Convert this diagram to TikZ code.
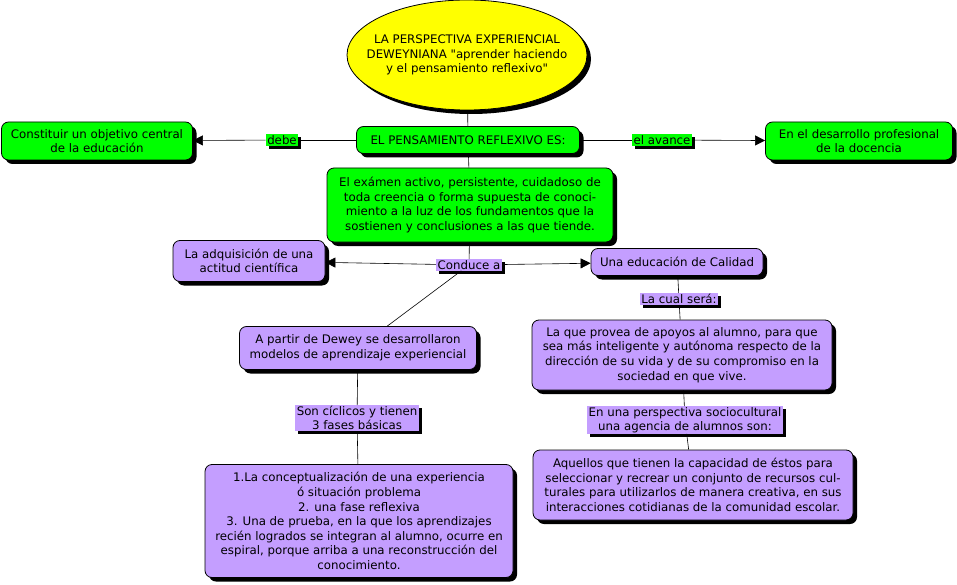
\documentclass[tikz,border=0pt]{standalone}
\usepackage{fontspec}
\setmainfont{DejaVu Sans}[Ligatures=TeXOff]
\usetikzlibrary{shapes.geometric,shadows,arrows.meta}
\definecolor{verde}{RGB}{0,255,0}
\definecolor{lila}{RGB}{196,158,255}
\definecolor{amarillo}{RGB}{255,255,0}
\begin{document}
\begin{tikzpicture}[x=1pt,y=-1pt,
    concepto/.style={draw, line width=0.8pt, rounded corners=7pt, align=center,
        inner sep=1pt, font=\fontsize{11.8}{14.6}\selectfont,
        drop shadow={fill=black, opacity=1, shadow xshift=4pt, shadow yshift=-4pt}},
    etiqueta/.style={align=center, inner xsep=1.5pt, inner ysep=1pt,
        font=\fontsize{11.8}{14}\selectfont,
        drop shadow={fill=black, opacity=1, shadow xshift=3pt, shadow yshift=-3pt}},
    flecha/.style={-{Triangle[length=10pt,width=10pt]}},
    linea/.style={line width=0.6pt}]
    \useasboundingbox (0,0) rectangle (957,585);
    % concepto principal
    \node[ellipse, draw, line width=0.8pt, fill=amarillo, align=center,
        inner xsep=-20pt, inner ysep=0pt,
        minimum width=240pt, minimum height=110pt, font=\fontsize{11.8}{14.6}\selectfont,
        drop shadow={fill=black, opacity=1, shadow xshift=4pt, shadow yshift=-4pt}]
        (titulo) at (467,55) {LA PERSPECTIVA EXPERIENCIAL\\DEWEYNIANA "aprender haciendo\\y el pensamiento reflexivo"};
    % conceptos verdes
    \node[concepto, fill=verde, minimum width=223pt, minimum height=27pt] (pensamiento) at (468,140) {EL PENSAMIENTO REFLEXIVO ES:};
    \node[concepto, fill=verde, minimum width=191pt, minimum height=38pt] (objetivo) at (97,141) {Constituir un objetivo central\\de la educación};
    \node[concepto, fill=verde, minimum width=187pt, minimum height=38pt] (docencia) at (859,141) {En el desarrollo profesional\\de la docencia};
    \node[concepto, fill=verde, minimum width=286pt, minimum height=74pt] (examen) at (470,205) {El exámen activo, persistente, cuidadoso de\\toda creencia o forma supuesta de conoci-\\miento a la luz de los fundamentos que la\\sostienen y conclusiones a las que tiende.};
    % conceptos lila
    \node[concepto, fill=lila, minimum width=152pt, minimum height=41pt] (actitud) at (249,261) {La adquisición de una\\actitud científica};
    \node[concepto, fill=lila, minimum width=172pt, minimum height=27pt] (calidad) at (677,262) {Una educación de Calidad};
    \node[concepto, fill=lila, minimum width=300pt, minimum height=70pt] (apoyos) at (682,355) {La que provea de apoyos al alumno, para que\\sea más inteligente y autónoma respecto de la\\dirección de su vida y de su compromiso en la\\sociedad en que vive.};
    \node[concepto, fill=lila, minimum width=237pt, minimum height=43pt] (dewey) at (358,348) {A partir de Dewey se desarrollaron\\modelos de aprendizaje experiencial};
    \node[concepto, fill=lila, minimum width=308pt, minimum height=113pt] (fases) at (359,521) {1.La conceptualización de una experiencia\\ó situación problema\\2. una fase reflexiva\\3. Una de prueba, en la que los aprendizajes\\recién logrados se integran al alumno, ocurre en\\espiral, porque arriba a una reconstrucción del\\conocimiento.};
    \node[concepto, fill=lila, minimum width=320pt, minimum height=70pt] (agencia) at (693,485) {Aquellos que tienen la capacidad de éstos para\\seleccionar y recrear un conjunto de recursos cul-\\turales para utilizarlos de manera creativa, en sus\\interacciones cotidianas de la comunidad escolar.};
    % etiquetas
    \node[etiqueta, fill=verde] (debe) at (282,140) {debe};
    \node[etiqueta, fill=verde] (avance) at (662,140) {el avance};
    \node[etiqueta, fill=lila] (conduce) at (469,265) {Conduce a};
    \node[etiqueta, fill=lila] (sera) at (679,299) {La cual será:};
    \node[etiqueta, fill=lila] (ciclicos) at (357,418) {Son cíclicos y tienen\\3 fases básicas};
    \node[etiqueta, fill=lila] (socio) at (685,420) {En una perspectiva sociocultural\\una agencia de alumnos son:};
    % conexiones
    \draw[linea] (titulo) -- (pensamiento);
    \draw[linea] (pensamiento) -- (debe);
    \draw[linea, flecha] (debe) -- (objetivo);
    \draw[linea] (pensamiento) -- (avance);
    \draw[linea, flecha] (avance) -- (docencia);
    \draw[linea] (pensamiento) -- (examen);
    \draw[linea] (examen) -- (conduce);
    \draw[linea, flecha] (conduce) -- (actitud);
    \draw[linea, flecha] (conduce) -- (calidad);
    \draw[linea] (conduce) -- (dewey);
    \draw[linea] (calidad) -- (sera);
    \draw[linea] (sera) -- (apoyos);
    \draw[linea] (apoyos) -- (socio);
    \draw[linea] (socio) -- (agencia);
    \draw[linea] (dewey) -- (ciclicos);
    \draw[linea] (ciclicos) -- (fases);
\end{tikzpicture}
\end{document}
